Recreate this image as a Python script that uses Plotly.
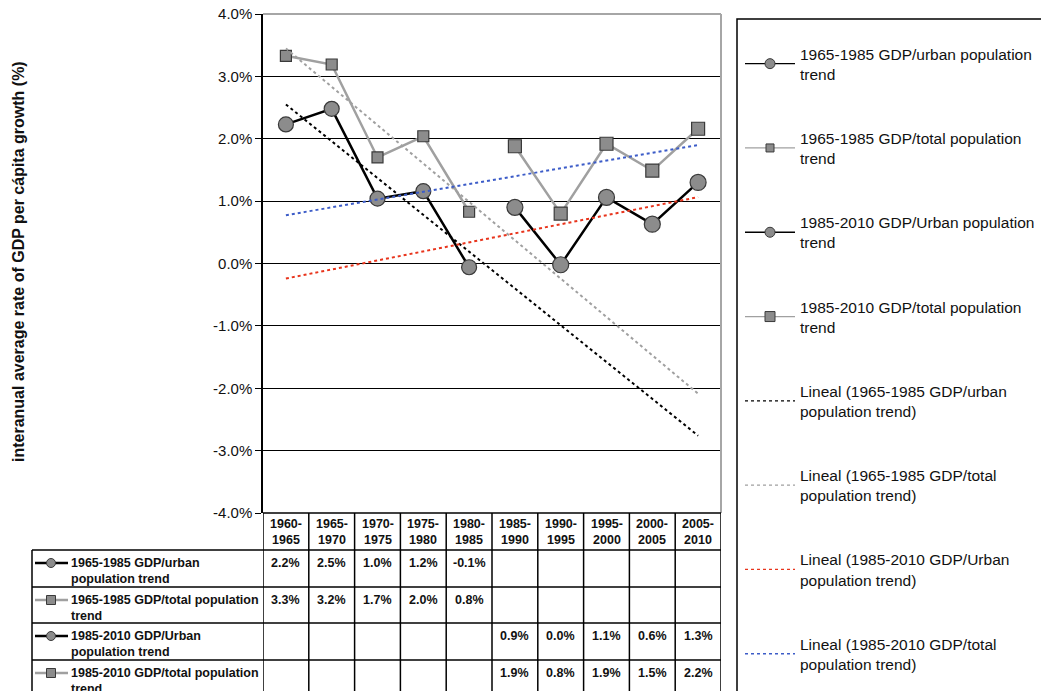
import numpy as np
import plotly.graph_objects as go

periods = ["1960-1965", "1965-1970", "1970-1975", "1975-1980", "1980-1985",
           "1985-1990", "1990-1995", "1995-2000", "2000-2005", "2005-2010"]
urban_65_85 = [2.23, 2.48, 1.04, 1.16, -0.06, None, None, None, None, None]
total_65_85 = [3.33, 3.19, 1.70, 2.04, 0.83, None, None, None, None, None]
urban_85_10 = [None, None, None, None, None, 0.90, -0.02, 1.06, 0.63, 1.30]
total_85_10 = [None, None, None, None, None, 1.88, 0.80, 1.92, 1.49, 2.16]

legend_names = ["1965-1985 GDP/urban population<br>trend",
                "1965-1985 GDP/total population<br>trend",
                "1985-2010 GDP/Urban population<br>trend",
                "1985-2010 GDP/total population<br>trend"]
trend_names = ["Lineal (1965-1985 GDP/urban<br>population trend)",
               "Lineal (1965-1985 GDP/total<br>population trend)",
               "Lineal (1985-2010 GDP/Urban<br>population trend)",
               "Lineal (1985-2010 GDP/total<br>population trend)"]
table_labels = ["1965-1985 GDP/urban<br>population trend",
                "1965-1985 GDP/total population<br>trend",
                "1985-2010 GDP/Urban<br>population trend",
                "1985-2010 GDP/total population<br>trend"]
y_ticks = [-4, -3, -2, -1, 0, 1, 2, 3, 4]
y_tick_labels = ["-4.0%", "-3.0%", "-2.0%", "-1.0%", "0.0%", "1.0%", "2.0%", "3.0%", "4.0%"]

W, H = 1041, 691
ML, MR, MT, MB = 263, 320, 14, 178
PW, PH = W - ML - MR, H - MT - MB
FONT = "Liberation Sans, Arial, sans-serif"


def px(xp):
    return (xp - ML) / PW


def py(yp):
    return 1 - (yp - MT) / PH


xs = list(range(1, 11))
all_series = [urban_65_85, total_65_85, urban_85_10, total_85_10]
line_colors = ["#000000", "#a0a0a0", "#000000", "#a0a0a0"]
symbols = ["circle", "square", "circle", "square"]
msizes = [15, 11, 16, 13]
leg_msizes = [10, 8, 10, 10]
trend_colors = ["#000000", "#a0a0a0", "#e8341c", "#3c5cc8"]

fig = go.Figure()
for i, s in enumerate(all_series):
    fig.add_trace(go.Scatter(
        x=xs, y=s, mode="lines+markers", name=legend_names[i], showlegend=False,
        line=dict(color=line_colors[i], width=2.5),
        marker=dict(symbol=symbols[i], size=msizes[i], color="#8c8c8c",
                    line=dict(color="#3a3a3a", width=1.2)),
        connectgaps=False))

for i, s in enumerate(all_series):
    idx = [k for k, v in enumerate(s) if v is not None]
    xv = np.array([xs[k] for k in idx], dtype=float)
    yv = np.array([s[k] for k in idx], dtype=float)
    slope, icpt = np.polyfit(xv, yv, 1)
    xt = np.array(xs, dtype=float)
    fig.add_trace(go.Scatter(
        x=xt, y=slope * xt + icpt, mode="lines", name=trend_names[i], showlegend=False,
        line=dict(color=trend_colors[i], width=2, dash="3px,3px")))

# legend entries (thin keys like the original)
for i in range(4):
    fig.add_trace(go.Scatter(
        x=[None], y=[None], mode="lines+markers", name=legend_names[i],
        legendgroup=f"g{i}",
        line=dict(color="#000000" if i % 2 == 0 else "#a0a0a0", width=1.3),
        marker=dict(symbol=symbols[i], size=leg_msizes[i], color="#8c8c8c",
                    line=dict(color="#3a3a3a", width=1))))
for i in range(4):
    fig.add_trace(go.Scatter(
        x=[None], y=[None], mode="lines", name=trend_names[i],
        legendgroup=f"t{i}",
        line=dict(color=trend_colors[i], width=1.3, dash="3px,3px")))

shapes = []
annotations = []

# plot frame (top/right)
shapes.append(dict(type="line", xref="paper", yref="paper", x0=0, x1=1, y0=1, y1=1,
                   line=dict(color="#a6a6a6", width=2)))
shapes.append(dict(type="line", xref="paper", yref="paper", x0=1, x1=1, y0=0, y1=1,
                   line=dict(color="#a6a6a6", width=2)))

# data table
row_y = [513, 550, 587, 623, 660, 697]
tbl_line = dict(color="#000000", width=1.5)
shapes.append(dict(type="line", xref="x", yref="paper", x0=0.5, x1=10.5,
                   y0=py(row_y[0]), y1=py(row_y[0]), line=tbl_line))
for r in range(1, len(row_y)):
    shapes.append(dict(type="line", xref="paper", yref="paper", x0=px(32), x1=1,
                       y0=py(row_y[r]), y1=py(row_y[r]), line=tbl_line))
for c in range(11):
    shapes.append(dict(type="line", xref="x", yref="paper", x0=0.5 + c, x1=0.5 + c,
                       y0=py(row_y[0]), y1=py(row_y[-1]), line=tbl_line))
shapes.append(dict(type="line", xref="paper", yref="paper", x0=px(32), x1=px(32),
                   y0=py(row_y[1]), y1=py(row_y[-1]), line=tbl_line))

for k, p in enumerate(periods):
    a, b = p.split("-")
    annotations.append(dict(x=xs[k], y=py((row_y[0] + row_y[1]) / 2), xref="x", yref="paper",
                            text=f"<b>{a}-<br>{b}</b>", showarrow=False,
                            font=dict(family=FONT, size=12.5, color="#111"),
                            xanchor="center", yanchor="middle", align="center"))


def fmt(v):
    t = f"{v:.1f}"
    if t == "-0.0":
        t = "0.0"
    return t + "%"


for r, s in enumerate(all_series):
    top = row_y[r + 1]
    for k, v in enumerate(s):
        if v is None:
            continue
        annotations.append(dict(x=xs[k], y=py(top + 13), xref="x", yref="paper",
                                text=f"<b>{fmt(v)}</b>", showarrow=False,
                                font=dict(family=FONT, size=12.5, color="#111"),
                                xanchor="center", yanchor="middle"))
    annotations.append(dict(x=px(69), y=py(top + 21), xref="paper", yref="paper",
                            text=f"<b>{table_labels[r]}</b>", showarrow=False,
                            font=dict(family=FONT, size=12.5, color="#111"),
                            xanchor="left", yanchor="middle", align="left"))
    ky = py(top + 13)
    shapes.append(dict(type="line", xref="paper", yref="paper", x0=px(35), x1=px(68),
                       y0=ky, y1=ky, line=dict(color=line_colors[r], width=2.5)))
    half = 4.5
    shapes.append(dict(type="circle" if symbols[r] == "circle" else "rect",
                       xref="paper", yref="paper",
                       x0=px(51 - half), x1=px(51 + half),
                       y0=py(top + 13 + half), y1=py(top + 13 - half),
                       fillcolor="#8c8c8c", line=dict(color="#3a3a3a", width=1)))

# legend box
shapes.append(dict(type="rect", xref="paper", yref="paper", x0=px(737), x1=px(1050),
                   y0=py(19), y1=py(705), line=dict(color="#000", width=1.5),
                   fillcolor="rgba(0,0,0,0)"))

# y axis title
annotations.append(dict(x=px(18), y=py(262), xref="paper", yref="paper",
                        text="<b>interanual average rate of GDP per cápita growth (%)</b>",
                        textangle=-90, showarrow=False,
                        font=dict(family=FONT, size=16, color="#111"),
                        xanchor="center", yanchor="middle"))

fig.update_layout(
    width=W, height=H,
    margin=dict(l=ML, r=MR, t=MT, b=MB, autoexpand=False),
    paper_bgcolor="white", plot_bgcolor="white",
    font=dict(family=FONT, color="#111"),
    showlegend=True,
    legend=dict(x=px(740), y=py(37), xanchor="left", yanchor="top",
                font=dict(family=FONT, size=15.5, color="#111"),
                bgcolor="rgba(0,0,0,0)", borderwidth=0,
                itemwidth=50, itemsizing="trace", maxheight=1000,
                tracegroupgap=41, traceorder="grouped"),
    xaxis=dict(range=[0.5, 10.5], showticklabels=False, showgrid=False, zeroline=False,
               showline=False, ticks="", fixedrange=True),
    yaxis=dict(range=[-4, 4], tickmode="array", tickvals=y_ticks, ticktext=y_tick_labels,
               showgrid=True, gridcolor="#000", gridwidth=1, zeroline=False,
               showline=True, linecolor="#000", linewidth=1.5,
               ticks="outside", ticklen=6, tickcolor="#000",
               tickfont=dict(family=FONT, size=15, color="#111")),
    shapes=shapes, annotations=annotations,
)

fig.write_html("out.html", config={"displayModeBar": False},
               post_script="document.body.style.margin='0';")
